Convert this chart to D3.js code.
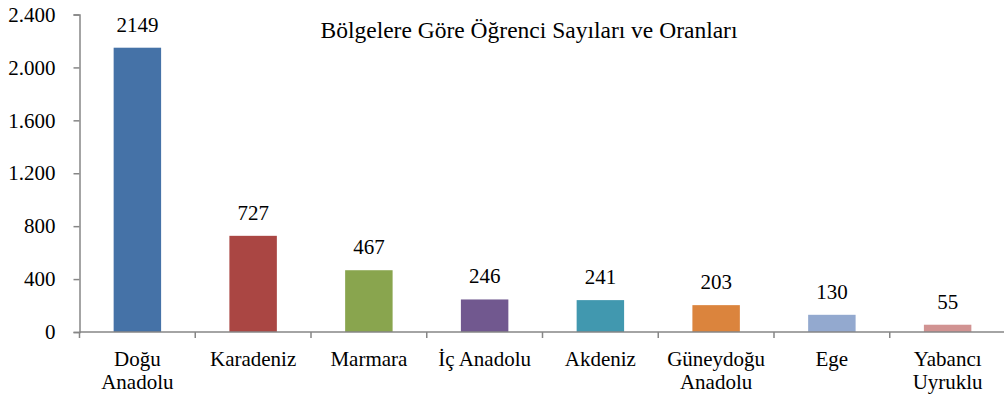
<!DOCTYPE html>
<html><head><meta charset="utf-8">
<script src="https://cdn.jsdelivr.net/npm/d3@7"></script>
<style>body{margin:0;background:#fff}svg{display:block}</style>
</head><body><svg id="c" width="1004" height="400"></svg>
<script>
const categories = [["Doğu","Anadolu"],["Karadeniz"],["Marmara"],["İç Anadolu"],["Akdeniz"],["Güneydoğu","Anadolu"],["Ege"],["Yabancı","Uyruklu"]];
const values = [2149, 727, 467, 246, 241, 203, 130, 55];
const colors = ["#4572A7","#AA4643","#89A54E","#71588F","#4198AF","#DB843D","#93A9CF","#D19392"];
const yTicks = [0, 400, 800, 1200, 1600, 2000, 2400];
const yTickLabels = ["0","400","800","1.200","1.600","2.000","2.400"];
const title = "Bölgelere Göre Öğrenci Sayıları ve Oranları";

const FONT = "Liberation Serif";
const FS = 21;
const svg = d3.select("#c");
const x0 = 79.5, x1 = 1005.5;
const idx = d3.range(values.length);
const x = d3.scaleBand().domain(idx).range([x0, x1]).paddingInner(0.59).paddingOuter(0.295);
const xb = d3.scaleBand().domain(idx).range([x0, x1]);
const y = d3.scaleLinear().domain([0, 2400]).range([332, 14.5]);
const axisCol = "#868686";

svg.selectAll("rect.bar").data(values).join("rect")
  .attr("x", (d,i)=>x(i)).attr("width", x.bandwidth())
  .attr("y", d=>y(d)).attr("height", d=>y(0)-y(d))
  .attr("fill", (d,i)=>colors[i]);

const ya = svg.append("g").attr("transform", `translate(${x0},0)`)
  .call(d3.axisLeft(y).tickValues(yTicks).tickFormat((d,i)=>yTickLabels[i]).tickSize(6).tickPadding(18));
ya.attr("font-family", FONT).attr("font-size", FS);
ya.select(".domain").attr("stroke", axisCol).attr("stroke-width", 1.5);
ya.selectAll(".tick line").attr("stroke", axisCol).attr("stroke-width", 1.5);
ya.selectAll(".tick text").attr("fill", "#000").attr("font-family", FONT).attr("font-size", FS);

const xa = svg.append("g");
xa.append("line").attr("x1", x0).attr("x2", 1004).attr("y1", y(0)).attr("y2", y(0)).attr("stroke", axisCol).attr("stroke-width", 1.5);
xa.selectAll("line.t").data(d3.range(values.length + 1)).join("line")
  .attr("x1", i=> i < values.length ? xb(i) : x1).attr("x2", i=> i < values.length ? xb(i) : x1)
  .attr("y1", y(0)).attr("y2", y(0)+6).attr("stroke", axisCol).attr("stroke-width", 1.5);

const cl = svg.selectAll("text.cat").data(categories).join("text")
  .attr("text-anchor", "middle").attr("font-family", FONT).attr("font-size", FS);
cl.each(function(lines, i){
  const t = d3.select(this);
  lines.forEach((l, j)=>{
    t.append("tspan").attr("x", xb(i) + xb.bandwidth()/2).attr("y", 366 + j*22.5).text(l);
  });
});

svg.selectAll("text.val").data(values).join("text")
  .attr("x", (d,i)=>x(i)+x.bandwidth()/2).attr("y", d=>y(d)-16)
  .attr("text-anchor", "middle").attr("font-family", FONT).attr("font-size", FS).text(d=>d);

svg.append("text").attr("x", 529).attr("y", 38).attr("text-anchor", "middle")
  .attr("font-family", FONT).attr("font-size", 23.5).text(title);
</script></body></html>
